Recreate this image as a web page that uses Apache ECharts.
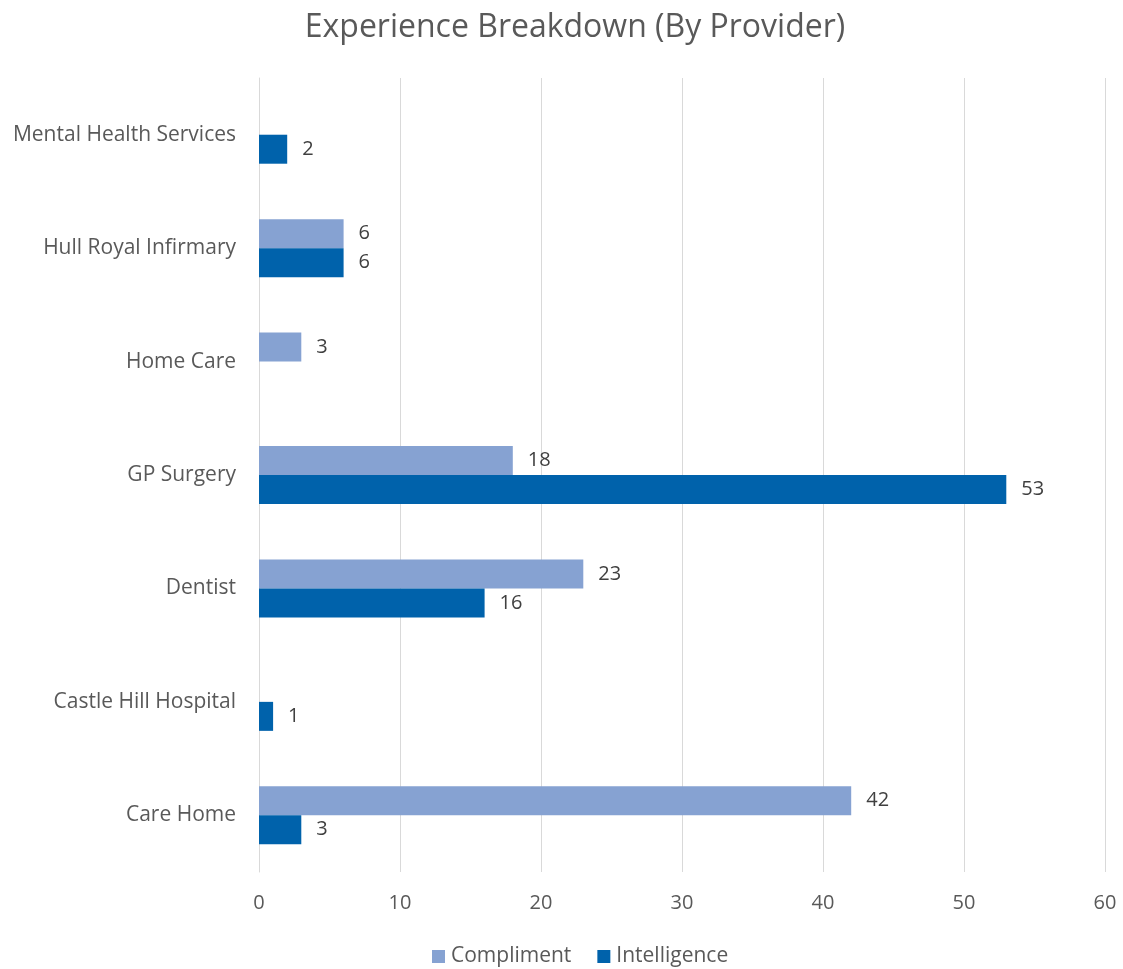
<!DOCTYPE html>
<html><head><meta charset="utf-8">
<script src="https://cdn.jsdelivr.net/npm/echarts@6/dist/echarts.min.js"></script>
<style>html,body{margin:0;padding:0;background:#fff}#c{width:1123px;height:969px}</style>
</head><body><div id="c"></div>
<script>
const categories = ['Care Home','Castle Hill Hospital','Dentist','GP Surgery','Home Care','Hull Royal Infirmary','Mental Health Services'];
const compliment = [42, null, 23, 18, 3, 6, null];
const intelligence = [3, 1, 16, 53, null, 6, 2];
const xTicks = [0,10,20,30,40,50,60];
const FONT = 'Open Sans';
const chart = echarts.init(document.getElementById('c'));
const lbl = {show:true, position:'right', distance:15, color:'#404040', fontSize:20, fontFamily:FONT};
chart.setOption({
  animation:false,
  title:{text:'Experience Breakdown (By Provider)', top:7, left:570, textAlign:'center',
    textStyle:{color:'#595959', fontSize:32, fontWeight:'normal', fontFamily:FONT}},
  legend:{top:941, left:427, itemWidth:13, itemHeight:13, itemGap:26,
    textStyle:{color:'#595959', fontSize:21, fontFamily:FONT, padding:[0,0,0,1]},
    data:[{name:'Compliment', icon:'rect'},{name:'Intelligence', icon:'rect'}]},
  grid:{left:259, right:18, top:78, bottom:97, containLabel:false},
  xAxis:{type:'value', min:xTicks[0], max:xTicks[xTicks.length-1], interval:10,
    axisLine:{show:false}, axisTick:{show:false},
    splitLine:{lineStyle:{color:'#d9d9d9', width:1}},
    axisLabel:{color:'#595959', fontSize:20, fontFamily:FONT, margin:21}},
  yAxis:{type:'category', data:categories,
    axisLine:{show:true, lineStyle:{color:'#d9d9d9'}}, axisTick:{show:false},
    axisLabel:{color:'#595959', fontSize:21, fontFamily:FONT, margin:23}},
  series:[
    {name:'Compliment', type:'bar', data:compliment, barWidth:29, barGap:'0%',
      itemStyle:{color:'#86a2d2'}, label:lbl},
    {name:'Intelligence', type:'bar', data:intelligence, barWidth:29, barGap:'0%',
      itemStyle:{color:'#0062ab'}, label:lbl}
  ]
});
</script></body></html>
